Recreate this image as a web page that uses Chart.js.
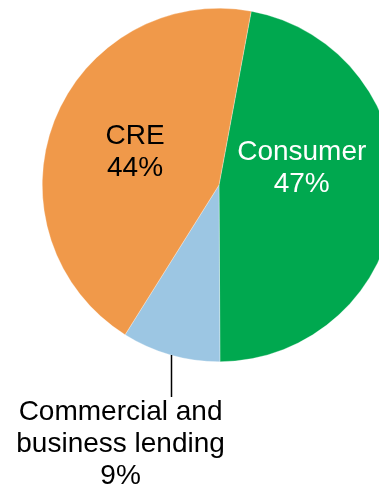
<!DOCTYPE html>
<html>
<head>
<meta charset="utf-8">
<script src="https://cdn.jsdelivr.net/npm/chart.js@4/dist/chart.umd.min.js"></script>
<style>
  html, body { margin: 0; padding: 0; background: #fff; overflow: hidden; }
  #wrap { width: 379px; height: 489px; overflow: hidden; }
</style>
</head>
<body>
<div id="wrap"><canvas id="pieChart" width="440" height="489"></canvas></div>
<script>
// Loan mix by segment (share of total, %)
const segments = [['Consumer'], ['Commercial and', 'business lending'], ['CRE']];
const shares = [47, 9, 44];
const sliceColors = ['#00A84F', '#9CC6E3', '#F0994A'];

// How each slice label is placed: radial fraction inside the slice, pixel nudge, colour,
// and for the small slice a leader line running straight down from the rim
const labelStyle = [
    { r: 0.47, dx: 0, dy: -24, color: '#ffffff' },
    { r: 1.0, dx: -50, dy: 89, color: '#000000', leader: 42 },
    { r: 0.51, dx: 0, dy: 0, color: '#000000' }
];

const sliceLabels = {
    id: 'sliceLabels',
    afterDatasetsDraw(chart) {
        const ctx = chart.ctx;
        const arcs = chart.getDatasetMeta(0).data;
        ctx.save();
        ctx.font = '28px "Liberation Sans", Arial, sans-serif';
        ctx.textAlign = 'center';
        ctx.textBaseline = 'middle';
        arcs.forEach((arc, i) => {
            const p = arc.getProps(['x', 'y', 'startAngle', 'endAngle', 'outerRadius'], true);
            const mid = (p.startAngle + p.endAngle) / 2;
            const st = labelStyle[i];
            const ax = p.x + Math.cos(mid) * p.outerRadius * st.r;
            const ay = p.y + Math.sin(mid) * p.outerRadius * st.r;
            if (st.leader) {
                ctx.strokeStyle = '#000';
                ctx.lineWidth = 1.5;
                ctx.beginPath();
                ctx.moveTo(Math.round(ax) + 0.5, ay);
                ctx.lineTo(Math.round(ax) + 0.5, ay + st.leader);
                ctx.stroke();
            }
            const lines = segments[i].concat([shares[i] + '%']);
            const cx = ax + st.dx;
            const cy = ay + st.dy;
            ctx.fillStyle = st.color;
            lines.forEach((t, k) => {
                ctx.fillText(t, cx, cy + (k - (lines.length - 1) / 2) * 32);
            });
        });
        ctx.restore();
    }
};

new Chart(document.getElementById('pieChart'), {
    type: 'pie',
    data: {
        labels: segments.map(s => s.join(' ')),
        datasets: [{
            data: shares,
            backgroundColor: sliceColors,
            borderColor: 'rgba(255, 255, 255, 0.6)',
            borderWidth: 0.5
        }]
    },
    options: {
        responsive: false,
        animation: false,
        rotation: 10.5,
        layout: { padding: { left: 42, right: 44, top: 8, bottom: 127 } },
        plugins: {
            legend: { display: false },
            tooltip: { enabled: false }
        }
    },
    plugins: [sliceLabels]
});
</script>
</body>
</html>
